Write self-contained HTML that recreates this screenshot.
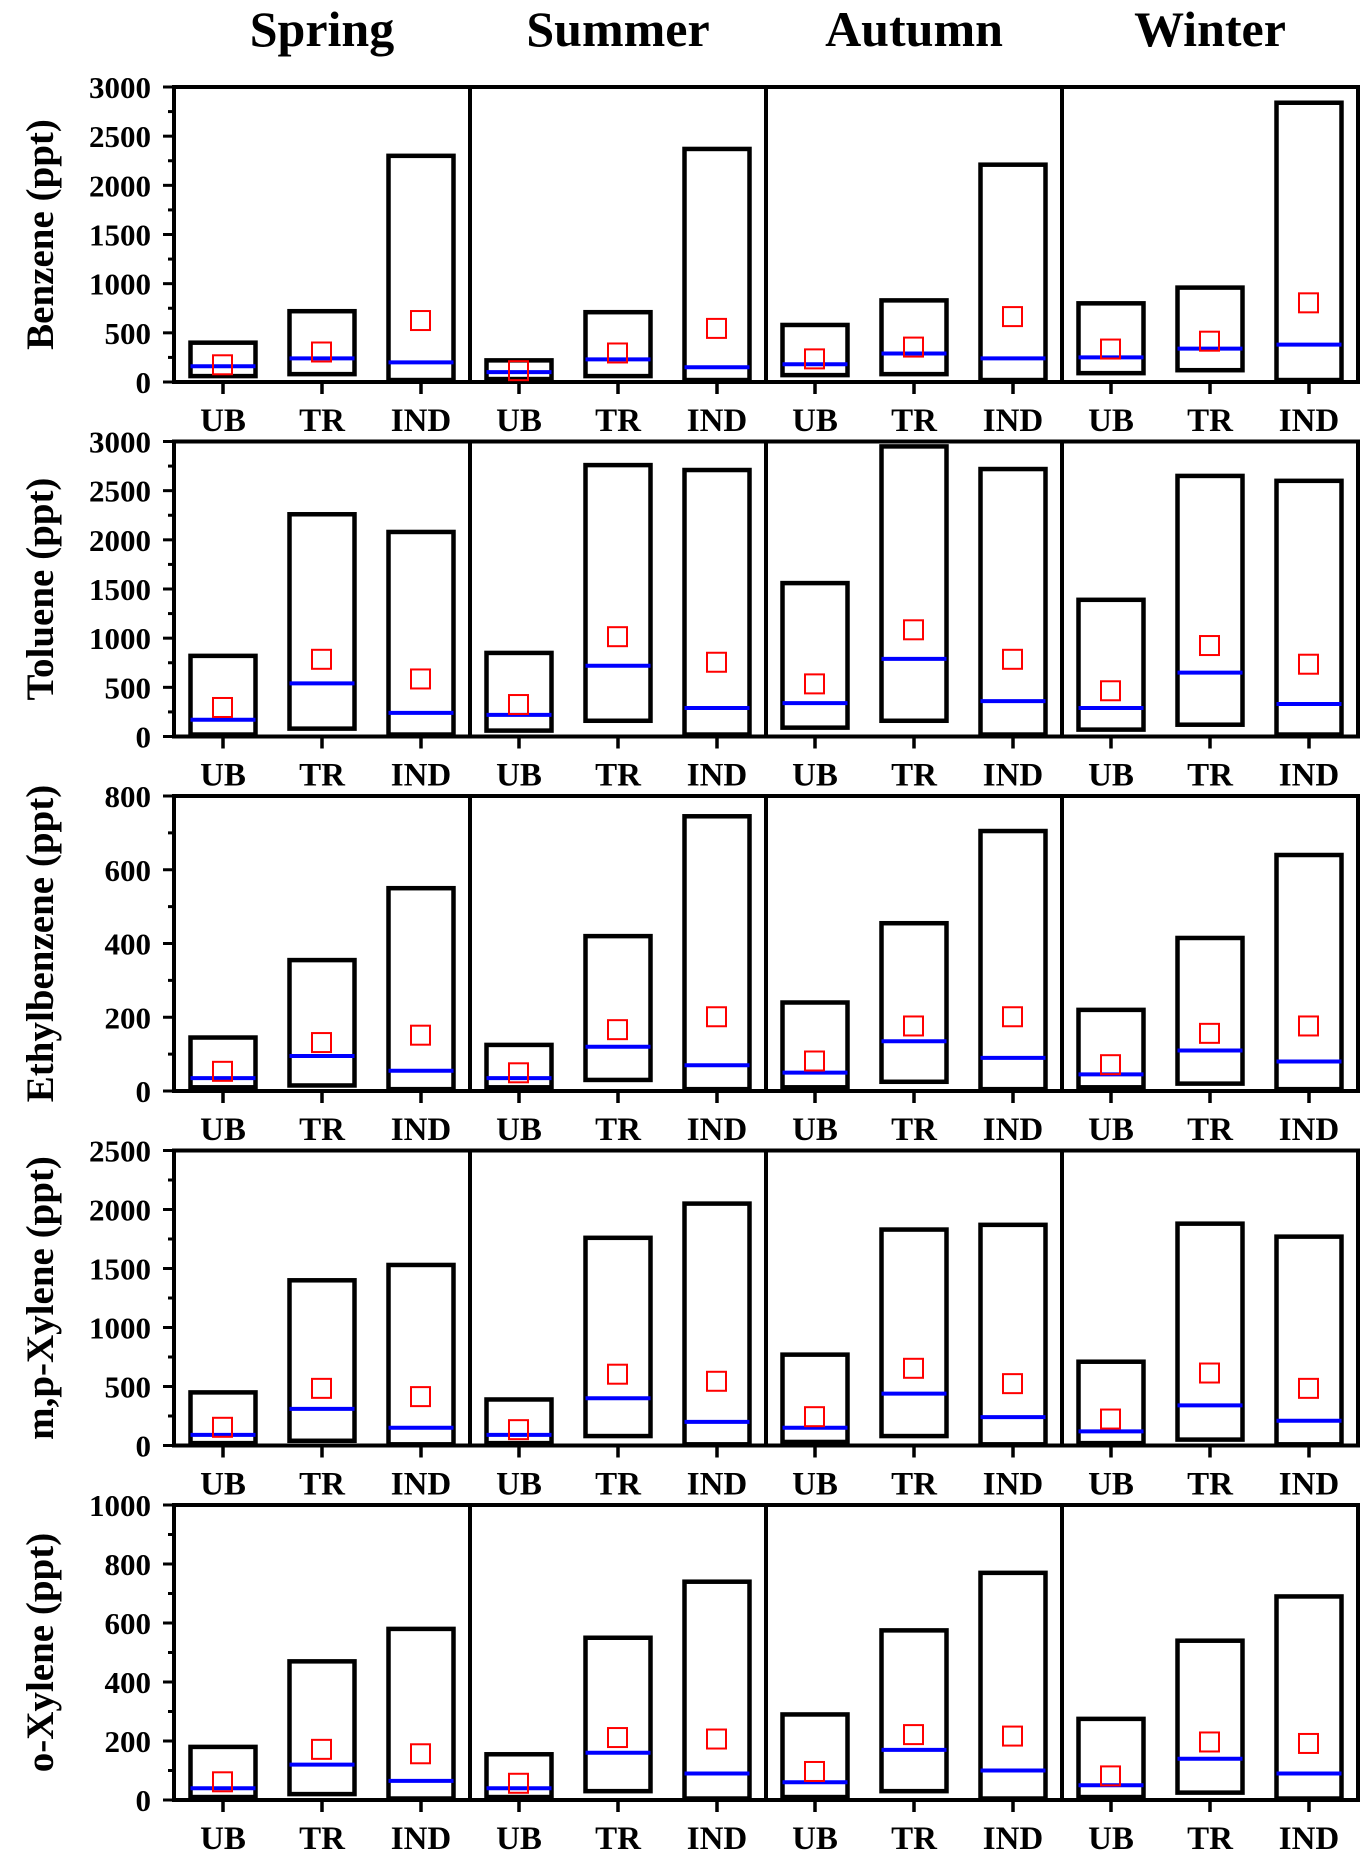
<!DOCTYPE html>
<html><head><meta charset="utf-8"><style>
html,body{margin:0;padding:0;background:#fff;}
svg text{font-family:"Liberation Serif","Times New Roman",serif;font-weight:bold;fill:#000;}
</style></head><body>
<svg id="chart" width="1371" height="1861" viewBox="0 0 1371 1861" xmlns="http://www.w3.org/2000/svg"></svg>
<script>
const seasons = ["Spring","Summer","Autumn","Winter"];
const sites = ["UB","TR","IND"];
const compounds = ["Benzene (ppt)","Toluene (ppt)","Ethylbenzene (ppt)","m,p-Xylene (ppt)","o-Xylene (ppt)"];
const yMax = [3000,3000,800,2500,1000];
const yStep = [500,500,200,500,200];
const boxLow = [
 [[60,80,20],[30,60,20],[70,80,20],[90,120,20]],
 [[20,80,20],[60,160,20],[90,160,20],[70,120,20]],
 [[10,15,5],[10,30,5],[10,25,5],[10,20,5]],
 [[20,40,10],[20,80,10],[30,80,10],[20,50,10]],
 [[10,20,5],[10,30,5],[10,30,5],[10,25,5]]
];
const boxHigh = [
 [[400,720,2300],[220,710,2370],[580,830,2210],[800,960,2840]],
 [[820,2260,2080],[850,2760,2710],[1560,2950,2720],[1390,2650,2600]],
 [[145,355,550],[125,420,745],[240,455,705],[220,415,640]],
 [[450,1400,1530],[390,1760,2050],[770,1830,1870],[710,1880,1770]],
 [[180,470,580],[155,550,740],[290,575,770],[275,540,690]]
];
const medians = [
 [[160,240,200],[100,230,150],[180,290,240],[250,340,380]],
 [[170,540,240],[220,720,290],[340,790,360],[290,650,330]],
 [[35,95,55],[35,120,70],[50,135,90],[45,110,80]],
 [[90,310,150],[90,400,200],[150,440,240],[120,340,210]],
 [[40,120,65],[40,160,90],[60,170,100],[50,140,90]]
];
const means = [
 [[170,300,620],[110,290,540],[230,350,660],[330,410,800]],
 [[290,780,580],[320,1010,750],[530,1080,780],[460,920,730]],
 [[52,130,150],[48,165,200],[80,175,200],[70,155,175]],
 [[150,480,410],[130,600,540],[240,650,520],[220,610,480]],
 [[60,170,155],[55,210,205],[95,220,215],[80,195,190]]
];

const svg = document.getElementById('chart');
const NS = 'http://www.w3.org/2000/svg';
function mk(tag, attrs, parent){const e=document.createElementNS(NS,tag);for(const k in attrs)e.setAttribute(k,attrs[k]);(parent||svg).appendChild(e);return e;}
const L=174, R=1358, top0=87, pitch=354.5, H=295;
const SW=(R-L)/4;
const siteOff=[49,148,247];
const BW=65;
function xSite(s,i){return L+s*SW+siteOff[i];}

seasons.forEach((s,si)=>{
  const t=mk('text',{x:L+si*SW+siteOff[1],y:46,'text-anchor':'middle','font-size':50});
  t.textContent=s;
  
  
});

compounds.forEach((c,ci)=>{
  const T=top0+ci*pitch, B=T+H;
  const g=mk('g',{});
  
  
  const y=v=>B-(v/yMax[ci])*H;
  const half=yStep[ci]/2;
  for(let v=0;v<=yMax[ci]+0.01;v+=half){
    const major=Math.abs(v/yStep[ci]-Math.round(v/yStep[ci]))<1e-6;
    const tk=mk('line',{x1:L-(major?11:6),x2:L,y1:y(v),y2:y(v),stroke:'#000','stroke-width':3},g);
    
    
    if(major){
      const tl=mk('text',{x:151,y:y(v)+11,'text-anchor':'end','font-size':31},g);
      tl.textContent=String(v);
      
      
    }
  }
  const yt=mk('text',{x:0,y:0,'text-anchor':'middle','font-size':39,transform:`translate(${53},${(T+B)/2}) rotate(-90)`},g);
  yt.textContent=c;
  
  
  const fr=mk('rect',{x:L,y:T,width:R-L,height:H,fill:'none',stroke:'#000','stroke-width':4},g);
  
  
  for(let k=1;k<4;k++){
    const d=mk('line',{x1:L+k*SW,x2:L+k*SW,y1:T,y2:B,stroke:'#000','stroke-width':4},g);
    
    
  }
  seasons.forEach((s,si)=>{
    sites.forEach((st,i)=>{
      const x=xSite(si,i);
      const tk=mk('line',{x1:x,x2:x,y1:B,y2:B+12,stroke:'#000','stroke-width':3.5},g);
      
      
      const xl=mk('text',{x:x,y:B+49,'text-anchor':'middle','font-size':33},g);
      xl.textContent=st;
      
      
      const lo=boxLow[ci][si][i], hi=boxHigh[ci][si][i];
      const bx=mk('rect',{x:x-BW/2,y:y(hi),width:BW,height:y(lo)-y(hi),fill:'none',stroke:'#000','stroke-width':4.5},g);
      
      
      const md=mk('line',{x1:x-BW/2,x2:x+BW/2,y1:y(medians[ci][si][i]),y2:y(medians[ci][si][i]),stroke:'#0000ff','stroke-width':4},g);
      
      
      const mn=mk('rect',{x:x-10,y:y(means[ci][si][i])-10,width:19,height:19,fill:'none',stroke:'#ff0000','stroke-width':2},g);
      
      
    });
  });
});
</script>
</body></html>
